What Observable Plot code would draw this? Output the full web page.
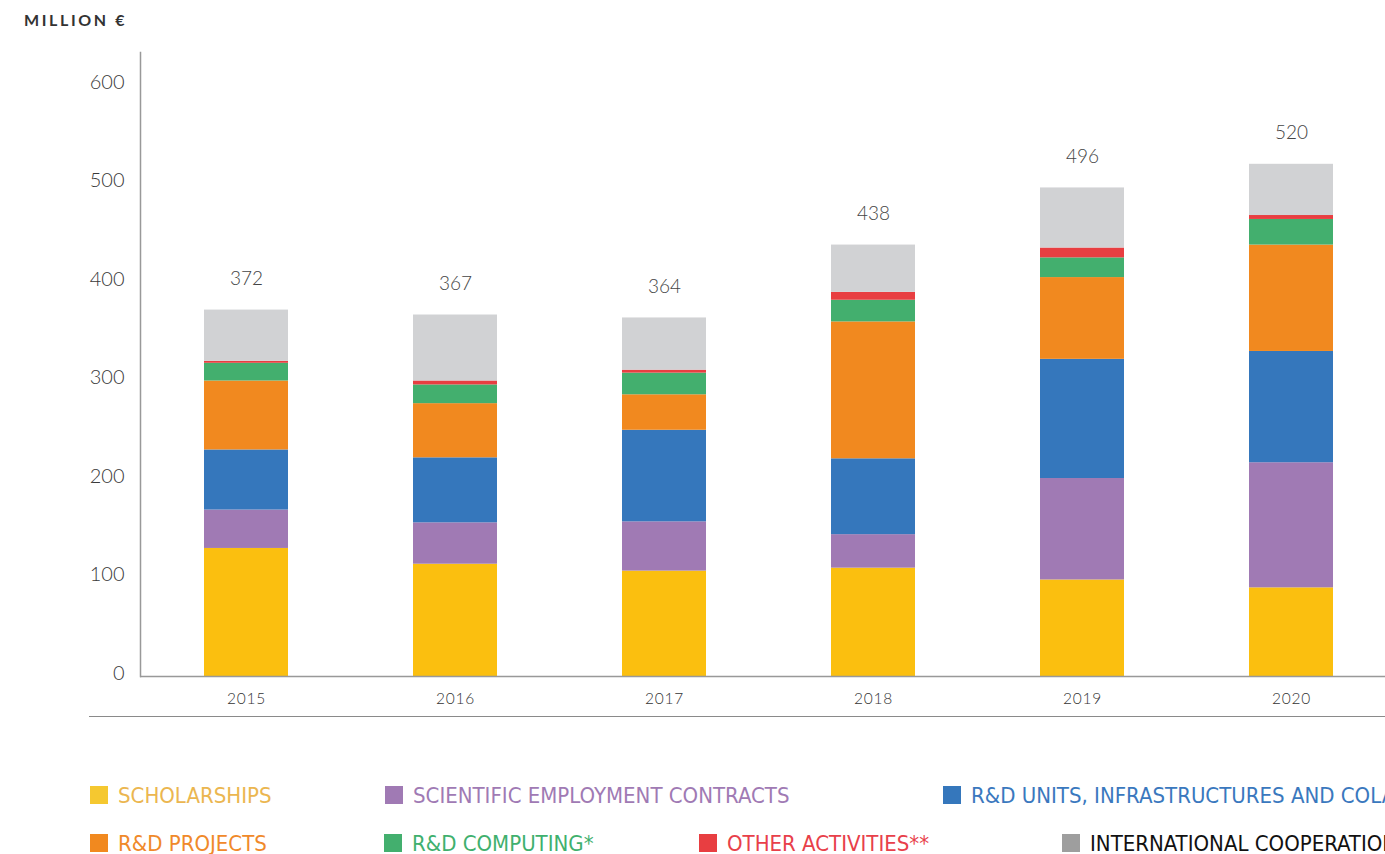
<!DOCTYPE html>
<html>
<head>
<meta charset="utf-8">
<script src="https://cdn.jsdelivr.net/npm/d3@7"></script>
<script src="https://cdn.jsdelivr.net/npm/@observablehq/plot@0.6"></script>
<style>
  html, body { margin: 0; padding: 0; background: #fff; width: 1385px; height: 854px; overflow: hidden; }
  #title { height: 40px; line-height: 40px; padding-left: 24px; font-family: Lato, "Open Sans", sans-serif; font-weight: 700; font-size: 16px; letter-spacing: 2.6px; color: #333; }
  #chart svg { display: block; overflow: visible; }
  #sep { margin-left: 89px; height: 0; border-top: 1.5px solid #8a8a8a; }
  #legend { position: relative; height: 136px; font-family: "Liberation Sans Narrow", "DejaVu Sans Condensed", sans-serif; font-size: 22px; white-space: nowrap; }
  .item { position: absolute; display: flex; align-items: center; height: 24px; }
  .sw { width: 18px; height: 18px; margin-right: 10px; flex: none; }
  .xlab text { letter-spacing: 0.8px; }
</style>
</head>
<body>
<div id="title">MILLION €</div>
<div id="chart"></div>
<div id="sep"></div>
<div id="legend"></div>
<script>
const years = ["2015", "2016", "2017", "2018", "2019", "2020"];
const seriesNames = [
  "SCHOLARSHIPS",
  "SCIENTIFIC EMPLOYMENT CONTRACTS",
  "R&D UNITS, INFRASTRUCTURES AND COLABS",
  "R&D PROJECTS",
  "R&D COMPUTING*",
  "OTHER ACTIVITIES**",
  "INTERNATIONAL COOPERATION"
];
const scholarships = [130, 114, 107, 110, 98, 90];
const employment   = [39, 42, 50, 34, 103, 127];
const units        = [61, 66, 93, 77, 121, 113];
const projects     = [70, 55, 36, 139, 83, 108];
const computing    = [18, 19, 22, 22, 20, 26];
const other        = [2, 4, 3, 8, 10, 4];
const intl         = [52, 67, 53, 48, 61, 52];
const totals       = [372, 367, 364, 438, 496, 520];
const yTicks = [0, 100, 200, 300, 400, 500, 600];

const barColors    = ["#FBBF0F", "#A07AB4", "#3577BC", "#F1891F", "#43AF6E", "#E83E41", "#D1D2D4"];
const swatchColors = ["#F5C830", "#A07AB4", "#3577BC", "#F1891F", "#43AF6E", "#E83E41", "#9E9E9E"];
const textColors   = ["#EBB650", "#A07AB4", "#3A78BE", "#F0892A", "#3FB06E", "#E8404A", "#111111"];

const seriesValues = [scholarships, employment, units, projects, computing, other, intl];
const rows = [];
seriesNames.forEach((s, i) => years.forEach((y, j) => rows.push({series: s, year: y, value: seriesValues[i][j]})));
const totalRows = years.map((y, j) => ({year: y, total: totals[j]}));

const plot = Plot.plot({
  width: 1385,
  height: 676,
  marginTop: 12,
  marginBottom: 40,
  marginLeft: 140,
  marginRight: 0,
  style: {background: "transparent", overflow: "visible"},
  x: {domain: years, range: [140, 1397.6], paddingInner: 0.6, paddingOuter: 0.3, label: null},
  y: {domain: [0, 633.5], label: null},
  color: {domain: seriesNames, range: barColors},
  marks: [
    Plot.barY(rows, {x: "year", y: "value", fill: "series", order: seriesNames}),
    Plot.ruleY([0], {stroke: "#999", strokeWidth: 1.5}),
    Plot.frame({anchor: "left", stroke: "#999", strokeWidth: 1.5}),
    Plot.axisY({ticks: yTicks, tickSize: 0, tickPadding: 16, tickFormat: d => String(d), fontSize: 20, fill: "#3a3a3a", fontFamily: "Lato, sans-serif", fontWeight: 300, dy: -3}),
    Plot.axisX({tickSize: 0, tickPadding: 16, fontSize: 15.5, fill: "#333", fontFamily: "Lato, sans-serif", fontWeight: 300, className: "xlab"}),
    Plot.text(totalRows, {x: "year", y: "total", text: d => String(d.total), dy: -31, fontSize: 19, fill: "#444", fontFamily: "Lato, sans-serif", fontWeight: 300})
  ]
});
document.getElementById("chart").appendChild(plot);

const legendPos = [
  [90, 0], [385, 0], [943, 0],
  [90, 48], [384, 48], [699, 48], [1062, 48]
];
const legend = document.getElementById("legend");
seriesNames.forEach((s, i) => {
  const item = document.createElement("div");
  item.className = "item";
  item.style.left = legendPos[i][0] + "px";
  item.style.top = (66 + legendPos[i][1]) + "px";
  const sw = document.createElement("div");
  sw.className = "sw";
  sw.style.background = swatchColors[i];
  const t = document.createElement("span");
  t.textContent = s;
  t.style.color = textColors[i];
  item.appendChild(sw);
  item.appendChild(t);
  legend.appendChild(item);
});
</script>
</body>
</html>
